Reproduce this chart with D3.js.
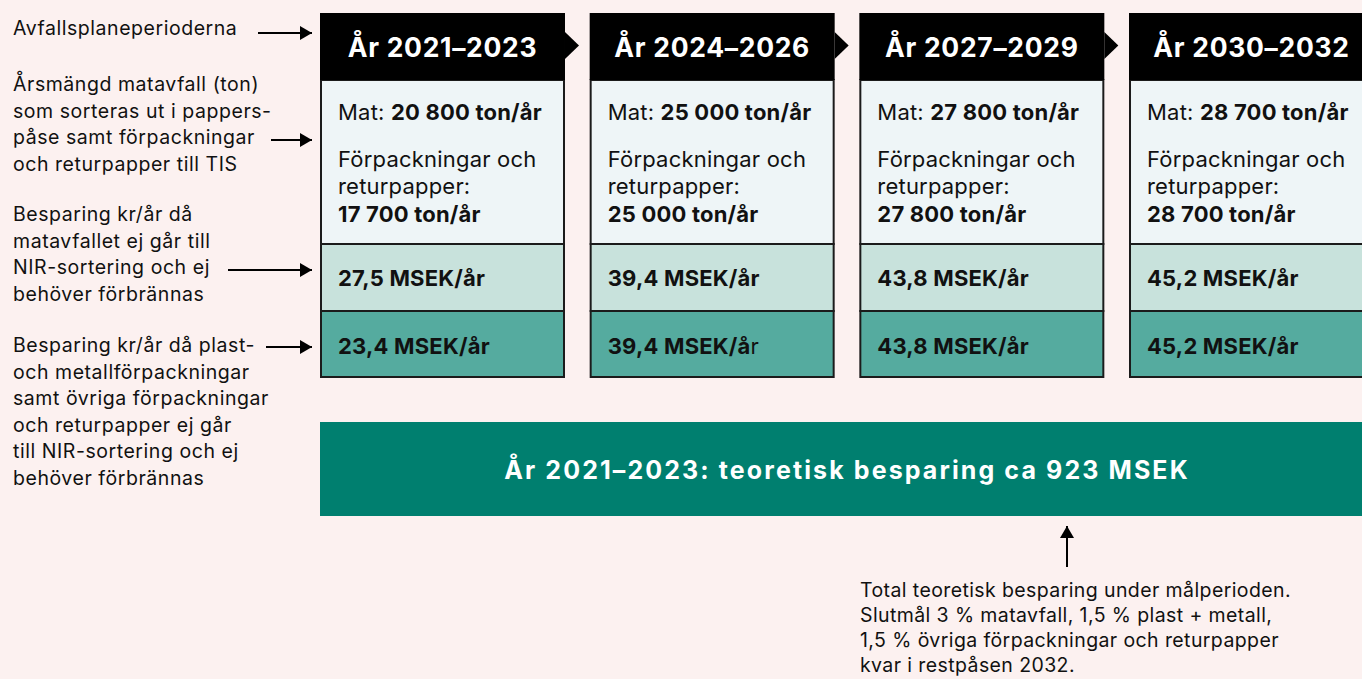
<!DOCTYPE html>
<html><head><meta charset="utf-8">
<script src="https://cdn.jsdelivr.net/npm/d3@7"></script>
<style>
html,body{margin:0;padding:0;background:#fcf1f0;}
svg{display:block;font-family:Inter,"Liberation Sans",sans-serif;}
</style></head>
<body>
<svg id="c" width="1362" height="679"></svg>
<script>
// ---- data ----
const periods = ["År 2021–2023", "År 2024–2026", "År 2027–2029", "År 2030–2032"];
const matTon = ["20 800", "25 000", "27 800", "28 700"];
const forpTon = ["17 700", "25 000", "27 800", "28 700"];
const besparingMat = ["27,5", "39,4", "43,8", "45,2"];
const besparingForp = ["23,4", "39,4", "43,8", "45,2"];
const leftLabels = [
  ["Avfallsplaneperioderna"],
  ["Årsmängd matavfall (ton)", "som sorteras ut i pappers-", "påse samt förpackningar", "och returpapper till TIS"],
  ["Besparing kr/år då", "matavfallet ej går till", "NIR-sortering och ej", "behöver förbrännas"],
  ["Besparing kr/år då plast-", "och metallförpackningar", "samt övriga förpackningar", "och returpapper ej går", "till NIR-sortering och ej", "behöver förbrännas"]
];
const bannerText = "År 2021–2023: teoretisk besparing ca 923 MSEK";
const noteLines = ["Total teoretisk besparing under målperioden.", "Slutmål 3 % matavfall, 1,5 % plast + metall,", "1,5 % övriga förpackningar och returpapper", "kvar i restpåsen 2032."];

// ---- layout ----
const svg = d3.select("#c");
const x = d3.scaleBand().domain(periods).range([320, 1374]).paddingInner(0.0915).paddingOuter(0);
const bw = x.bandwidth();
const rowY = {head: 13, light: 80, mid: 244, dark: 311, end: 377};
const C = {bg: "#fcf1f0", light: "#eef5f7", mid: "#c8e2dc", dark: "#55ab9f", banner: "#007f6f", ink: "#111"};

// arrow marker
const defs = svg.append("defs");
defs.append("marker").attr("id", "ah").attr("viewBox", "0 0 12 14").attr("refX", 12).attr("refY", 7)
  .attr("markerWidth", 12).attr("markerHeight", 14).attr("markerUnits", "userSpaceOnUse").attr("orient", "auto")
  .append("path").attr("d", "M0,0L12,7L0,14Z").attr("fill", "#000");

const cols = svg.append("g").selectAll("g").data(periods).join("g")
  .attr("transform", d => `translate(${x(d)},0)`);

// body boxes
const bands = [["light", "mid", C.light], ["mid", "dark", C.mid], ["dark", "end", C.dark]];
bands.forEach(([a, b, col]) => {
  cols.append("rect").attr("x", 1).attr("y", rowY[a]).attr("width", bw - 2).attr("height", rowY[b] - rowY[a])
    .attr("fill", col).attr("stroke", "#1b1b1b").attr("stroke-width", 2);
});
// header
cols.append("rect").attr("x", 0).attr("y", rowY.head).attr("width", bw).attr("height", rowY.light - rowY.head).attr("fill", "#000");
cols.filter((d, i) => i < periods.length - 1).append("path")
  .attr("d", `M${bw},32L${bw + 14},45.5L${bw},59Z`).attr("fill", "#000");
cols.append("text").attr("x", bw / 2).attr("y", 57).attr("text-anchor", "middle")
  .attr("fill", "#fff").attr("font-weight", 700).attr("font-size", 26.5).attr("letter-spacing", 0.7).text(d => d);

const tx = 18;
const body = sel => sel.attr("font-size", 22).attr("letter-spacing", 0.2).attr("fill", C.ink);
// Mat line
const mt = cols.append("text").attr("x", tx).attr("y", 120).call(body);
mt.append("tspan").text("Mat: ");
mt.append("tspan").attr("font-weight", 700).text((d, i) => matTon[i] + " ton/år");
cols.append("text").attr("x", tx).attr("y", 167).call(body).text("Förpackningar och");
cols.append("text").attr("x", tx).attr("y", 194).call(body).text("returpapper:");
cols.append("text").attr("x", tx).attr("y", 222).call(body).attr("font-weight", 700)
  .text((d, i) => forpTon[i] + " ton/år");
cols.append("text").attr("x", tx).attr("y", 286).call(body).attr("font-weight", 700)
  .text((d, i) => besparingMat[i] + " MSEK/år");
const dt = cols.append("text").attr("x", tx).attr("y", 354).call(body).attr("font-weight", 700);
dt.append("tspan").text((d, i) => besparingForp[i] + (i === 1 ? " MSEK/å" : " MSEK/år"));
dt.filter((d, i) => i === 1).append("tspan").attr("font-weight", 400).text("r");

// left labels
const labelBase = [35, 91, 221, 352];
const lineH = 26.6;
leftLabels.forEach((lines, k) => {
  const t = svg.append("text").attr("x", 13).attr("y", labelBase[k]).attr("font-size", 19.5).attr("letter-spacing", 0.55).attr("fill", C.ink);
  lines.forEach((l, j) => t.append("tspan").attr("x", 13).attr("y", labelBase[k] + j * lineH).text(l));
});
const arrows = [[258, 33], [271, 140], [228, 270], [266, 347]];
arrows.forEach(([x0, y0]) => {
  svg.append("line").attr("x1", x0).attr("x2", 312).attr("y1", y0).attr("y2", y0)
    .attr("stroke", "#000").attr("stroke-width", 2).attr("marker-end", "url(#ah)");
});

// banner
svg.append("rect").attr("x", x(periods[0])).attr("y", 422).attr("width", x.range()[1] - x(periods[0])).attr("height", 94).attr("fill", C.banner);
svg.append("text").attr("x", (x(periods[0]) + x.range()[1]) / 2).attr("y", 479).attr("text-anchor", "middle")
  .attr("fill", "#fff").attr("font-weight", 700).attr("font-size", 25).attr("letter-spacing", 2.1).text(bannerText);

// up arrow + note
svg.append("line").attr("x1", 1067).attr("x2", 1067).attr("y1", 567).attr("y2", 526)
  .attr("stroke", "#000").attr("stroke-width", 2).attr("marker-end", "url(#ah)");
const nt = svg.append("text").attr("font-size", 19.5).attr("letter-spacing", 0.4).attr("fill", C.ink);
noteLines.forEach((l, j) => nt.append("tspan").attr("x", 860).attr("y", 597 + j * 25).text(l));
</script>
</body></html>
